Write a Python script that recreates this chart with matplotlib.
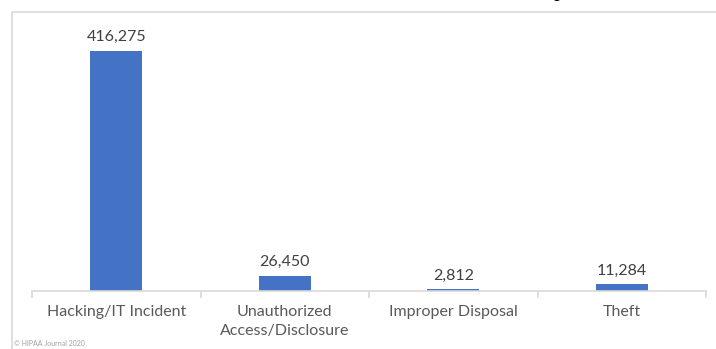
import matplotlib
matplotlib.use("Agg")
import matplotlib.pyplot as plt
from matplotlib.patches import Rectangle

categories = ["Hacking/IT Incident", "Unauthorized\nAccess/Disclosure", "Improper Disposal", "Theft"]
records = [416275, 26450, 2812, 11284]
value_labels = ["416,275", "26,450", "2,812", "11,284"]

W, H = 716, 349
plt.rcParams["font.family"] = ["Lato", "DejaVu Sans"]

fig = plt.figure(figsize=(W / 100, H / 100), dpi=100)

# outer frame of the original screenshot (partly cropped on the right)
fig.patches.append(Rectangle((12 / W, -0.1), 1.2, (H - 12) / H + 0.1,
                             transform=fig.transFigure, fill=False,
                             edgecolor="#d9d9d9", linewidth=1.2))

ax = fig.add_axes([32 / W, 58 / H, (706 - 32) / W, (291 - 31.6) / H])
x = range(len(categories))
ax.bar(x, records, width=0.31, color="#4472C4")
for xi, v, lab in zip(x, records, value_labels):
    ax.annotate(lab, (xi, v), xytext=(0, 5), textcoords="offset points",
                ha="center", va="bottom", fontsize=11.5, color="#404040")

ax.set_xlim(-0.5, len(categories) - 0.5)
ax.set_ylim(0, 450000)
ax.set_xticks(list(x))
ax.set_xticklabels(categories, fontsize=11.5, color="#595959", linespacing=1.45)
ax.set_xticks([i - 0.5 for i in range(len(categories) + 1)], minor=True)
ax.tick_params(axis="x", which="major", length=0, pad=10)
ax.tick_params(axis="x", which="minor", length=5, color="#d9d9d9", width=1.2)
ax.set_yticks([])
for side in ["top", "right", "left"]:
    ax.spines[side].set_visible(False)
ax.spines["bottom"].set_color("#d9d9d9")
ax.spines["bottom"].set_linewidth(1.2)

fig.text(14 / W, 1 - 344 / H, "\u00a9 HIPAA Journal 2020", fontsize=5,
         color="#a0a0a0", va="center", ha="left")

# cut-off caption text from the page above the chart
fig.text(641 / W, 1 + 3.8 / H, "reports [13]", family="Liberation Serif",
         fontsize=16, color="black", ha="right", va="baseline")

fig.savefig("out.png", dpi=100)
